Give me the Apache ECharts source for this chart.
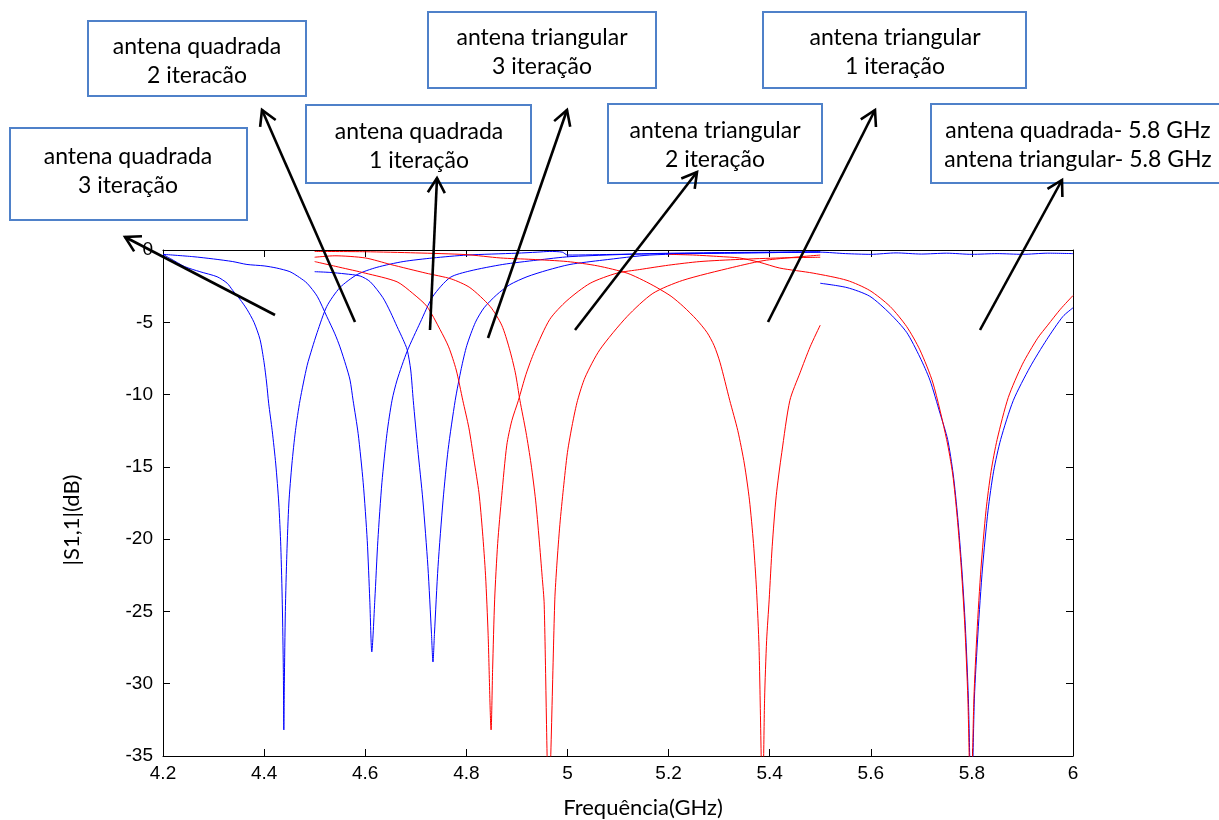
<!DOCTYPE html>
<html>
<head>
<meta charset="utf-8">
<script src="https://cdn.jsdelivr.net/npm/echarts@6/dist/echarts.min.js"></script>
<style>
  html, body { margin: 0; padding: 0; background: #fff; overflow: hidden; }
  #chart { width: 1219px; height: 820px; }
</style>
</head>
<body>
<div id="chart"></div>
<script>
// Frequency (GHz) / |S1,1| (dB) pairs for each measured antenna
const quadrada3 = [[4.200,-0.30],[4.215,-0.60],[4.243,-1.15],[4.273,-1.50],[4.307,-1.85],[4.327,-2.30],[4.338,-2.80],[4.352,-3.40],[4.366,-4.10],[4.380,-5.00],[4.392,-6.20],[4.400,-7.80],[4.405,-9.20],[4.409,-10.6],[4.416,-12.5],[4.423,-14.8],[4.429,-17.5],[4.433,-20.5],[4.436,-24.5],[4.438,-29.0],[4.439,-33.2],[4.440,-30.0],[4.442,-25.0],[4.445,-21.0],[4.449,-17.5],[4.455,-14.8],[4.462,-12.5],[4.471,-10.4],[4.485,-8.0],[4.495,-6.8],[4.505,-5.7],[4.524,-3.9],[4.550,-2.6],[4.584,-1.7],[4.623,-1.2],[4.675,-0.8],[4.734,-0.55],[4.801,-0.35],[4.900,-0.22],[4.940,-0.15],[4.965,-0.10],[4.990,-0.15],[5.000,-0.35],[5.100,-0.30],[5.200,-0.25],[5.300,-0.22],[5.400,-0.18],[5.500,-0.15],[5.550,-0.25],[5.600,-0.30],[5.650,-0.20],[5.700,-0.28],[5.750,-0.22],[5.800,-0.30],[5.850,-0.25],[5.900,-0.30],[5.950,-0.22],[6.000,-0.25]];
const quadrada2 = [[4.200,-0.30],[4.259,-0.46],[4.300,-0.62],[4.338,-0.80],[4.366,-1.00],[4.400,-1.10],[4.425,-1.25],[4.451,-1.50],[4.470,-1.90],[4.485,-2.30],[4.505,-3.20],[4.524,-4.60],[4.540,-5.80],[4.550,-6.70],[4.562,-8.00],[4.570,-9.00],[4.576,-10.4],[4.586,-12.7],[4.596,-16.1],[4.604,-20.1],[4.609,-24.2],[4.613,-27.8],[4.619,-24.2],[4.625,-20.1],[4.633,-16.1],[4.643,-12.7],[4.653,-10.4],[4.663,-9.0],[4.683,-7.0],[4.709,-5.0],[4.734,-3.2],[4.768,-1.9],[4.807,-1.45],[4.872,-1.0],[4.940,-0.70],[5.005,-0.46],[5.163,-0.25],[5.300,-0.18],[5.400,-0.15],[5.500,-0.12]];
const quadrada1 = [[4.500,-1.50],[4.530,-1.55],[4.560,-1.65],[4.590,-1.80],[4.610,-2.20],[4.635,-3.30],[4.650,-4.30],[4.663,-5.30],[4.675,-6.20],[4.683,-6.90],[4.690,-8.30],[4.695,-10.4],[4.704,-13.8],[4.714,-17.3],[4.724,-21.9],[4.731,-26.5],[4.734,-28.5],[4.737,-26.5],[4.744,-21.9],[4.754,-17.3],[4.764,-13.8],[4.778,-10.4],[4.790,-8.2],[4.801,-6.6],[4.818,-5.0],[4.835,-4.0],[4.860,-3.1],[4.886,-2.4],[4.920,-1.85],[4.960,-1.40],[5.005,-1.00],[5.070,-0.70],[5.163,-0.35],[5.300,-0.22],[5.500,-0.15]];
const triangular3 = [[4.500,-0.80],[4.550,-1.20],[4.600,-1.60],[4.663,-2.20],[4.694,-3.00],[4.722,-3.90],[4.748,-5.50],[4.765,-6.70],[4.780,-8.30],[4.793,-10.4],[4.805,-12.3],[4.815,-14.5],[4.825,-16.8],[4.832,-19.5],[4.838,-22.5],[4.843,-26.5],[4.849,-33.2],[4.852,-29.0],[4.856,-24.2],[4.862,-20.3],[4.870,-17.0],[4.880,-13.5],[4.890,-11.8],[4.903,-10.4],[4.918,-8.6],[4.935,-7.0],[4.965,-4.8],[4.999,-3.5],[5.045,-2.3],[5.098,-1.6],[5.143,-1.35],[5.200,-1.05],[5.262,-0.80],[5.340,-0.65],[5.420,-0.55],[5.500,-0.50]];
const triangular2 = [[4.500,-0.50],[4.540,-0.40],[4.600,-0.55],[4.650,-1.00],[4.720,-1.60],[4.770,-2.00],[4.807,-2.60],[4.847,-3.90],[4.870,-5.20],[4.885,-6.80],[4.897,-8.50],[4.906,-10.4],[4.918,-12.6],[4.928,-14.8],[4.937,-17.3],[4.944,-20.0],[4.950,-22.6],[4.954,-24.5],[4.963,-38.5],[4.975,-24.2],[4.979,-21.8],[4.985,-19.0],[4.992,-16.5],[5.000,-14.0],[5.010,-12.0],[5.020,-10.4],[5.035,-8.8],[5.064,-6.9],[5.118,-4.6],[5.169,-3.0],[5.228,-2.1],[5.327,-1.2],[5.394,-0.70],[5.500,-0.35]];
const triangular1 = [[4.500,-0.10],[4.600,-0.12],[4.700,-0.20],[4.800,-0.32],[4.867,-0.55],[4.930,-0.65],[5.000,-0.80],[5.060,-1.10],[5.118,-1.60],[5.150,-2.10],[5.177,-2.60],[5.205,-3.20],[5.229,-3.90],[5.255,-4.80],[5.276,-5.70],[5.290,-6.60],[5.302,-7.80],[5.321,-10.4],[5.337,-12.5],[5.350,-14.8],[5.360,-17.3],[5.368,-20.3],[5.374,-23.5],[5.379,-27.5],[5.386,-38.5],[5.390,-31.0],[5.394,-27.0],[5.399,-24.2],[5.405,-20.5],[5.413,-17.0],[5.424,-14.0],[5.440,-10.4],[5.460,-8.5],[5.480,-6.7],[5.500,-5.2]];
const quadrada58 = [[5.500,-2.30],[5.553,-2.60],[5.598,-3.20],[5.638,-4.40],[5.671,-5.70],[5.697,-7.40],[5.717,-9.00],[5.737,-11.3],[5.752,-13.1],[5.763,-15.5],[5.772,-18.5],[5.780,-22.0],[5.787,-26.0],[5.793,-31.0],[5.799,-39.0],[5.805,-31.0],[5.812,-26.5],[5.821,-22.0],[5.832,-18.0],[5.843,-15.3],[5.857,-13.1],[5.882,-10.4],[5.915,-8.1],[5.948,-6.2],[5.980,-4.6],[6.000,-4.0]];
const triangular58 = [[5.200,-0.30],[5.250,-0.35],[5.300,-0.45],[5.340,-0.55],[5.380,-0.85],[5.420,-1.25],[5.486,-1.60],[5.553,-2.10],[5.598,-2.80],[5.638,-3.90],[5.671,-5.30],[5.697,-6.90],[5.723,-9.20],[5.750,-13.1],[5.762,-15.5],[5.771,-18.5],[5.779,-22.0],[5.786,-26.0],[5.792,-31.0],[5.798,-39.0],[5.804,-31.0],[5.810,-26.5],[5.818,-22.0],[5.828,-18.0],[5.838,-15.3],[5.850,-13.1],[5.872,-10.2],[5.900,-7.9],[5.930,-6.1],[5.950,-5.2],[5.975,-4.1],[6.000,-3.15]];

// Axis ranges and tick steps
const freqRange = [4.2, 6.0];
const freqStep = 0.2;
const dbRange = [-35, 0];
const dbStep = 5;

const BLUE = '#0000ff';
const RED = '#ff0000';

const curves = [
  { name: 'antena quadrada 3 iteração', data: quadrada3, color: BLUE },
  { name: 'antena quadrada 2 iteração', data: quadrada2, color: BLUE },
  { name: 'antena quadrada 1 iteração', data: quadrada1, color: BLUE },
  { name: 'antena triangular 3 iteração', data: triangular3, color: RED },
  { name: 'antena triangular 2 iteração', data: triangular2, color: RED },
  { name: 'antena triangular 1 iteração', data: triangular1, color: RED },
  { name: 'antena quadrada- 5.8 GHz', data: quadrada58, color: BLUE },
  { name: 'antena triangular- 5.8 GHz', data: triangular58, color: RED }
];

// Callout boxes (pixel layout) and their labels
const boxes = [
  { x: 88,  y: 21,  w: 218, h: 75, cx: 197,  ty: 47,  lines: ['antena quadrada', '2 iteracão'] },
  { x: 10,  y: 128, w: 237, h: 92, cx: 128,  ty: 157, lines: ['antena quadrada', '3 iteração'] },
  { x: 306, y: 105, w: 225, h: 78, cx: 419,  ty: 132, lines: ['antena quadrada', '1 iteração'] },
  { x: 428, y: 12,  w: 228, h: 76, cx: 542,  ty: 38,  lines: ['antena triangular', '3 iteração'] },
  { x: 608, y: 104, w: 214, h: 79, cx: 715,  ty: 131, lines: ['antena triangular', '2 iteração'] },
  { x: 763, y: 12,  w: 263, h: 76, cx: 895,  ty: 38,  lines: ['antena triangular', '1 iteração'] },
  { x: 931, y: 104, w: 297, h: 79, cx: 1078, ty: 131, lines: ['antena quadrada- 5.8 GHz', 'antena triangular- 5.8 GHz'] }
];

// Pointer arrows: tail -> head, in pixels
const arrows = [
  [275, 315, 125, 237],
  [355, 322, 262, 110],
  [430, 330, 437, 178],
  [488, 338, 567, 110],
  [575, 330, 697, 172],
  [768, 322, 875, 110],
  [980, 330, 1062, 180]
];

const LABEL_FONT = 'Lato, "Open Sans", sans-serif';
const TICK_FONT = '"Liberation Sans", Arial, sans-serif';

// Plot frame in pixels
const PLOT = { left: 163, top: 250, width: 910, height: 506 };

function arrowGraphics(a) {
  const [x1, y1, x2, y2] = a;
  const ang = Math.atan2(y1 - y2, x1 - x2);
  const len = 17, spread = Math.PI / 6;
  const p1 = [x2 + len * Math.cos(ang + spread), y2 + len * Math.sin(ang + spread)];
  const p2 = [x2 + len * Math.cos(ang - spread), y2 + len * Math.sin(ang - spread)];
  return [
    { type: 'line', z: 100, shape: { x1, y1, x2, y2 }, style: { stroke: '#000', lineWidth: 2.6 } },
    { type: 'polyline', z: 100, shape: { points: [p1, [x2, y2], p2] }, style: { stroke: '#000', lineWidth: 2.6, fill: null } }
  ];
}

function boxGraphics(b) {
  const out = [{
    type: 'rect', z: 90,
    shape: { x: b.x, y: b.y, width: b.w, height: b.h },
    style: { fill: '#fff', stroke: '#4f81c9', lineWidth: 2 }
  }];
  b.lines.forEach((t, i) => {
    out.push({
      type: 'text', z: 91,
      x: b.cx,
      y: b.ty + i * 29,
      style: { text: t, fill: '#000', font: '23px ' + LABEL_FONT, textAlign: 'center', textVerticalAlign: 'middle' }
    });
  });
  return out;
}

const graphics = [];
boxes.forEach(b => graphics.push(...boxGraphics(b)));
arrows.forEach(a => graphics.push(...arrowGraphics(a)));

// Axis titles
graphics.push({
  type: 'text', z: 50, x: 643, y: 808,
  style: { text: 'Frequência(GHz)', fill: '#000', font: '22px ' + LABEL_FONT, textAlign: 'center', textVerticalAlign: 'middle' }
});
graphics.push({
  type: 'text', z: 50, x: 72, y: 520, rotation: Math.PI / 2,
  style: { text: '|S1,1|(dB)', fill: '#000', font: '22px ' + LABEL_FONT, textAlign: 'center', textVerticalAlign: 'middle' }
});

const chart = echarts.init(document.getElementById('chart'), null, { renderer: 'canvas', width: 1219, height: 820 });

const tickLabel = v => String(Math.round(v * 10) / 10);

const frameAxis = {
  axisLine: { show: true, onZero: false, lineStyle: { color: '#000', width: 1 } },
  axisTick: { show: true, inside: true, length: 7, lineStyle: { color: '#000' } },
  splitLine: { show: false }
};

chart.setOption({
  animation: false,
  backgroundColor: '#fff',
  grid: { left: PLOT.left, top: PLOT.top, width: PLOT.width, height: PLOT.height },
  xAxis: [
    Object.assign({
      type: 'value', min: freqRange[0], max: freqRange[1], interval: freqStep,
      axisLabel: { color: '#000', fontFamily: TICK_FONT, fontSize: 19, margin: 8, formatter: tickLabel }
    }, frameAxis),
    Object.assign({
      type: 'value', position: 'top', min: freqRange[0], max: freqRange[1], interval: freqStep,
      axisLabel: { show: false }
    }, frameAxis)
  ],
  yAxis: [
    Object.assign({
      type: 'value', min: dbRange[0], max: dbRange[1], interval: dbStep,
      axisLabel: { color: '#000', fontFamily: TICK_FONT, fontSize: 19, margin: 10 }
    }, frameAxis),
    Object.assign({
      type: 'value', position: 'right', min: dbRange[0], max: dbRange[1], interval: dbStep,
      axisLabel: { show: false }
    }, frameAxis)
  ],
  series: curves.map(c => ({
    name: c.name,
    type: 'line',
    xAxisIndex: 0,
    yAxisIndex: 0,
    data: c.data,
    showSymbol: false,
    symbol: 'none',
    smooth: 0.25,
    clip: true,
    lineStyle: { color: c.color, width: 1 },
    itemStyle: { color: c.color },
    emphasis: { disabled: true }
  })),
  graphic: graphics
});
</script>
</body>
</html>
